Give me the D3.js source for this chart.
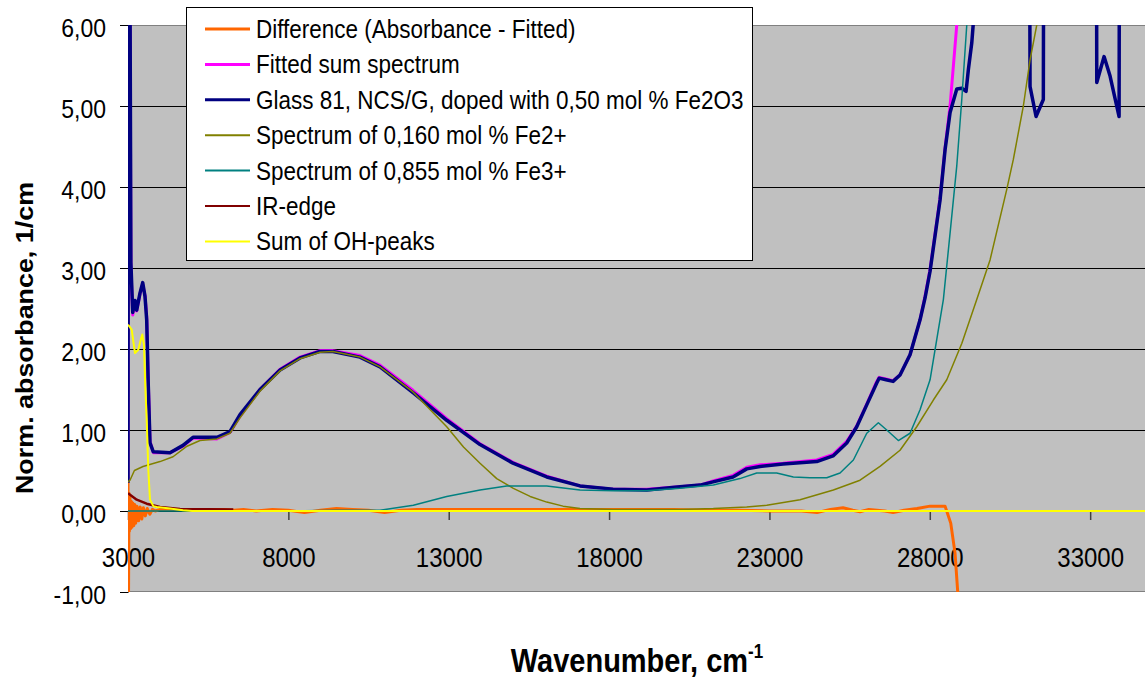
<!DOCTYPE html>
<html lang="en">
<head>
<meta charset="utf-8">
<title>Glass 81 absorption spectrum fit</title>
<script src="https://d3js.org/d3.v7.min.js"></script>
<style>
  body { margin: 0; background: #fff; }
  svg text { font-family: Arial, "Liberation Sans", sans-serif; fill: #000; }
</style>
</head>
<body>
<svg width="1145" height="680"></svg>
<script>

// ---- data: [wavenumber (cm-1), absorbance (1/cm)] ----
var xTicks = [3000, 8000, 13000, 18000, 23000, 28000, 33000];
var yTicks = [-1, 0, 1, 2, 3, 4, 5, 6];

var difference = [
  [3000,0.36],[3012,-1.5],[3030,0.22],[3045,-0.25],[3060,0.18],[3080,-0.22],[3100,0.12],
  [3125,-0.2],[3150,0.1],[3180,-0.18],[3210,0.08],[3240,-0.15],[3280,0.06],[3330,-0.12],
  [3380,0.05],[3430,-0.1],[3480,0.04],[3540,-0.06],[3600,0.03],[3680,-0.04],[3760,0.02],
  [3850,0.0],[4000,0.02],[4500,0.02],[5000,0.02],[5500,0.02],[6000,0.02],[6300,0.01],
  [6600,0.02],[7000,0.0],[7500,0.02],[8000,0.01],[8500,-0.02],[9000,0.01],[9500,0.03],
  [10000,0.02],[10500,0.01],[11000,-0.02],[11500,0.01],[12000,0.02],[13000,0.02],
  [14000,0.02],[15000,0.02],[16000,0.02],[17000,0.02],[18000,0.02],[19000,0.02],
  [20000,0.02],[21000,0.01],[22000,0.01],[23000,0.0],[24000,0.0],[24484,-0.02],
  [24900,0.02],[25295,0.04],[25600,0.01],[25825,-0.01],[26100,0.02],[26355,0.01],
  [26600,0.0],[26854,-0.02],[27200,0.01],[27602,0.03],[28008,0.06],[28476,0.06],
  [28653,-0.15],[28787,-0.52],[28871,-1.0],[29000,-2.0]
];

var fittedSum = [
  [3000,0.4],[3015,8],[3050,8],[3090,3.0],[3147,2.42],[3218,2.58],[3271,2.47],[3374,2.68],
  [3458,2.8],[3530,2.66],[3583,2.4],[3633,1.6],[3686,0.86],[3789,0.72],[4310,0.72],
  [4715,0.8],[5027,0.9],[5775,0.89],[6180,0.97],[6492,1.17],[7116,1.5],[7740,1.75],
  [8363,1.9],[8987,1.98],[9392,1.98],[10234,1.92],[10858,1.8],[11887,1.49],[12938,1.14],
  [13976,0.83],[15005,0.6],[16056,0.43],[17094,0.31],[18123,0.27],[19174,0.27],
  [20209,0.3],[20836,0.32],[21241,0.37],[21865,0.44],[22292,0.54],[22707,0.57],
  [23424,0.59],[24475,0.63],[24983,0.7],[25410,0.86],[25722,1.05],[26034,1.32],
  [26346,1.6],[26420,1.65],[26636,1.63],[26854,1.61],[27072,1.68],[27384,1.93],
  [27696,2.36],[27852,2.65],[28008,2.98],[28320,3.86],[28476,4.48],[28632,5.0],
  [28841,6.0],[29000,7.3],[29300,10]
];

var glass81 = [
  [3000,0.35],[3015,8],[3050,8],[3090,3.07],[3147,2.45],[3218,2.6],[3271,2.48],[3374,2.69],
  [3458,2.82],[3530,2.65],[3583,2.36],[3633,1.54],[3686,0.84],[3789,0.73],[4310,0.72],
  [4715,0.81],[5027,0.91],[5775,0.91],[6180,0.98],[6492,1.19],[7116,1.5],[7740,1.74],
  [8363,1.89],[8987,1.97],[9392,1.97],[10234,1.9],[10858,1.78],[11887,1.46],[12938,1.12],
  [13976,0.82],[15005,0.59],[16056,0.42],[17094,0.31],[18123,0.27],[19174,0.26],
  [20209,0.3],[20836,0.32],[21241,0.36],[21865,0.42],[22292,0.52],[22707,0.55],
  [23424,0.58],[24475,0.61],[24983,0.68],[25410,0.84],[25722,1.04],[26034,1.31],
  [26346,1.58],[26420,1.64],[26636,1.62],[26854,1.6],[27072,1.68],[27384,1.93],
  [27696,2.36],[27852,2.63],[28008,2.96],[28320,3.84],[28476,4.46],[28632,4.92],
  [28841,5.21],[28997,5.22],[29131,5.18],[29203,5.45],[29309,5.78],[29411,6.3],[29500,9],
  [31100,9],[31126,5.24],[31313,4.87],[31540,5.08],[31560,9],[33190,9],[33206,5.29],
  [33434,5.61],[33621,5.37],[33902,4.87],[33920,9],[34710,9]
];

var fe2 = [
  [3000,0.36],[3062,0.38],[3200,0.5],[3468,0.55],[3998,0.61],[4403,0.67],[4840,0.8],
  [5245,0.87],[5775,0.89],[6180,0.96],[6492,1.15],[7116,1.48],[7740,1.73],[8363,1.88],
  [8987,1.96],[9392,1.97],[10234,1.9],[10858,1.78],[11887,1.47],[12938,1.04],[13460,0.79],
  [13976,0.59],[14497,0.4],[15015,0.28],[15538,0.18],[16056,0.11],[16565,0.06],
  [17094,0.03],[18133,0.02],[19170,0.02],[20209,0.02],[21250,0.03],[22290,0.05],
  [22916,0.07],[23954,0.14],[24993,0.26],[25825,0.38],[26448,0.55],[27072,0.75],
  [27593,1.04],[28111,1.37],[28529,1.62],[29000,2.07],[29464,2.61],[29879,3.1],
  [30400,3.97],[30605,4.34],[30917,5.0],[31126,5.57],[31335,6.0],[31600,6.8]
];

var fe3 = [
  [3000,0],[8000,0],[9500,0.01],[10858,0.01],[11897,0.07],[12938,0.18],[13976,0.26],
  [14808,0.31],[16056,0.31],[17094,0.26],[18133,0.25],[19174,0.25],[20209,0.28],
  [21251,0.32],[22080,0.4],[22604,0.47],[23227,0.47],[23745,0.42],[24266,0.41],
  [24787,0.41],[25201,0.47],[25617,0.63],[26034,0.96],[26396,1.09],[26658,1.0],
  [27019,0.87],[27384,0.96],[27696,1.25],[28008,1.62],[28423,2.61],[28632,3.43],
  [28841,4.26],[28997,5.08],[29153,6.0],[29400,7.5]
];

var irEdge = [[3000,0.22],[3271,0.14],[3583,0.09],[3998,0.05],[4622,0.025],[6283,0.02]];

var ohPeaks = [
  [3000,2.3],[3115,2.24],[3218,1.95],[3321,1.99],[3396,2.11],[3446,2.18],[3499,2.05],
  [3539,1.54],[3583,1.12],[3633,0.51],[3686,0.14],[3789,0.06],[3895,0.05],[4310,0.03],
  [4715,0.01],[5000,0],[34710,0]
];

var seriesNames = [
  "Difference (Absorbance - Fitted)",
  "Fitted sum spectrum",
  "Glass 81, NCS/G, doped with 0,50 mol % Fe2O3",
  "Spectrum of 0,160 mol % Fe2+",
  "Spectrum of 0,855 mol % Fe3+",
  "IR-edge",
  "Sum of OH-peaks"
];
var seriesData = [difference, fittedSum, glass81, fe2, fe3, irEdge, ohPeaks];
var seriesColors = ["#ff6600", "#ff00ff", "#000080", "#808000", "#008080", "#800000", "#ffff00"];
var seriesWidths = [3, 3, 3.5, 1.5, 1.5, 2.5, 2];

// ---- layout ----
var svg = d3.select("svg");
var plotL = 128, plotR = 1145, plotT = 25, plotB = 592;

var x = d3.scaleLinear().domain([3000, 34710]).range([plotL, plotR]);
var y = d3.scaleLinear().domain([-1, 6]).range([plotB, plotT]);
var commaFmt = function(d) { return d3.format(".2f")(d).replace(".", ",").replace("\u2212", "-"); };

// plot area
svg.append("rect")
  .attr("x", plotL).attr("y", plotT)
  .attr("width", plotR - plotL).attr("height", plotB - plotT)
  .attr("fill", "#c0c0c0");

svg.append("g").selectAll("line")
  .data(yTicks.filter(function(d) { return d > -1 && d < 6 && d !== 0; }))
  .join("line")
  .attr("x1", plotL).attr("x2", plotR)
  .attr("y1", function(d) { return Math.round(y(d)) + 0.5; })
  .attr("y2", function(d) { return Math.round(y(d)) + 0.5; })
  .attr("stroke", "#000").attr("stroke-width", 1);

svg.append("line").attr("x1", plotL).attr("x2", plotR).attr("y1", plotT + 0.5).attr("y2", plotT + 0.5)
  .attr("stroke", "#808080");
svg.append("line").attr("x1", plotL).attr("x2", plotR).attr("y1", plotB - 0.5).attr("y2", plotB - 0.5)
  .attr("stroke", "#808080");

// y axis
var yAxis = svg.append("g")
  .attr("transform", "translate(" + plotL + ",0)")
  .call(d3.axisLeft(y).tickValues(yTicks).tickSize(8).tickSizeOuter(0).tickFormat(commaFmt));
yAxis.attr("font-family", null).attr("font-size", null);
yAxis.select(".domain").attr("stroke", "#000");
yAxis.selectAll(".tick line").attr("stroke", "#000");
yAxis.selectAll(".tick text")
  .attr("x", null).attr("dy", null)
  .attr("font-size", 23)
  .attr("transform", "translate(-22,11.5) scale(1,1.15)");

// x axis at zero
var xAxis = svg.append("g")
  .attr("transform", "translate(0," + y(0) + ")")
  .call(d3.axisBottom(x).tickValues(xTicks).tickSize(9).tickSizeOuter(0).tickFormat(d3.format("d")));
xAxis.attr("font-family", null).attr("font-size", null);
xAxis.select(".domain").attr("stroke", "#000");
xAxis.selectAll(".tick line").attr("stroke", "#404040").attr("stroke-width", 1.5);
xAxis.selectAll(".tick text")
  .attr("y", null).attr("dy", null)
  .attr("font-size", 24)
  .attr("transform", "translate(0,56) scale(1,1.18)");

// series
svg.append("defs").append("clipPath").attr("id", "plotclip")
  .append("rect").attr("x", plotL).attr("y", plotT)
  .attr("width", plotR - plotL).attr("height", plotB - plotT);

var line = d3.line()
  .x(function(d) { return x(d[0]); })
  .y(function(d) { return y(d[1]); });

svg.append("g").attr("clip-path", "url(#plotclip)")
  .selectAll("path")
  .data(seriesData)
  .join("path")
  .attr("d", line)
  .attr("fill", "none")
  .attr("stroke", function(d, i) { return seriesColors[i]; })
  .attr("stroke-width", function(d, i) { return seriesWidths[i]; })
  .attr("stroke-linejoin", "round");

// legend
var legend = svg.append("g");
legend.append("rect")
  .attr("x", 186.5).attr("y", 7.5).attr("width", 566).attr("height", 253)
  .attr("fill", "#fff").attr("stroke", "#000").attr("stroke-width", 1);

var rows = legend.selectAll("g.row")
  .data(seriesNames)
  .join("g")
  .attr("class", "row")
  .attr("transform", function(d, i) { return "translate(0," + (29 + i * 35.4) + ")"; });
rows.append("line")
  .attr("x1", 205).attr("x2", 250).attr("y1", 0).attr("y2", 0)
  .attr("stroke", function(d, i) { return seriesColors[i]; })
  .attr("stroke-width", function(d, i) { return i < 3 ? 3 : 2; });
rows.append("text")
  .attr("font-size", 22.5)
  .attr("transform", "translate(256,9) scale(1,1.12)")
  .text(function(d) { return d; });

// axis titles
svg.append("text")
  .attr("font-size", 24).attr("font-weight", "bold")
  .attr("text-anchor", "middle")
  .attr("transform", "translate(33,338) rotate(-90) scale(1.12,1)")
  .text("Norm. absorbance, 1/cm");

var xt = svg.append("text")
  .attr("font-size", 29).attr("font-weight", "bold")
  .attr("text-anchor", "middle")
  .attr("transform", "translate(637,672) scale(1,1.17)");
xt.append("tspan").text("Wavenumber, cm");
xt.append("tspan").attr("font-size", 17).attr("dy", -12).text("-1");

</script>
</body>
</html>
